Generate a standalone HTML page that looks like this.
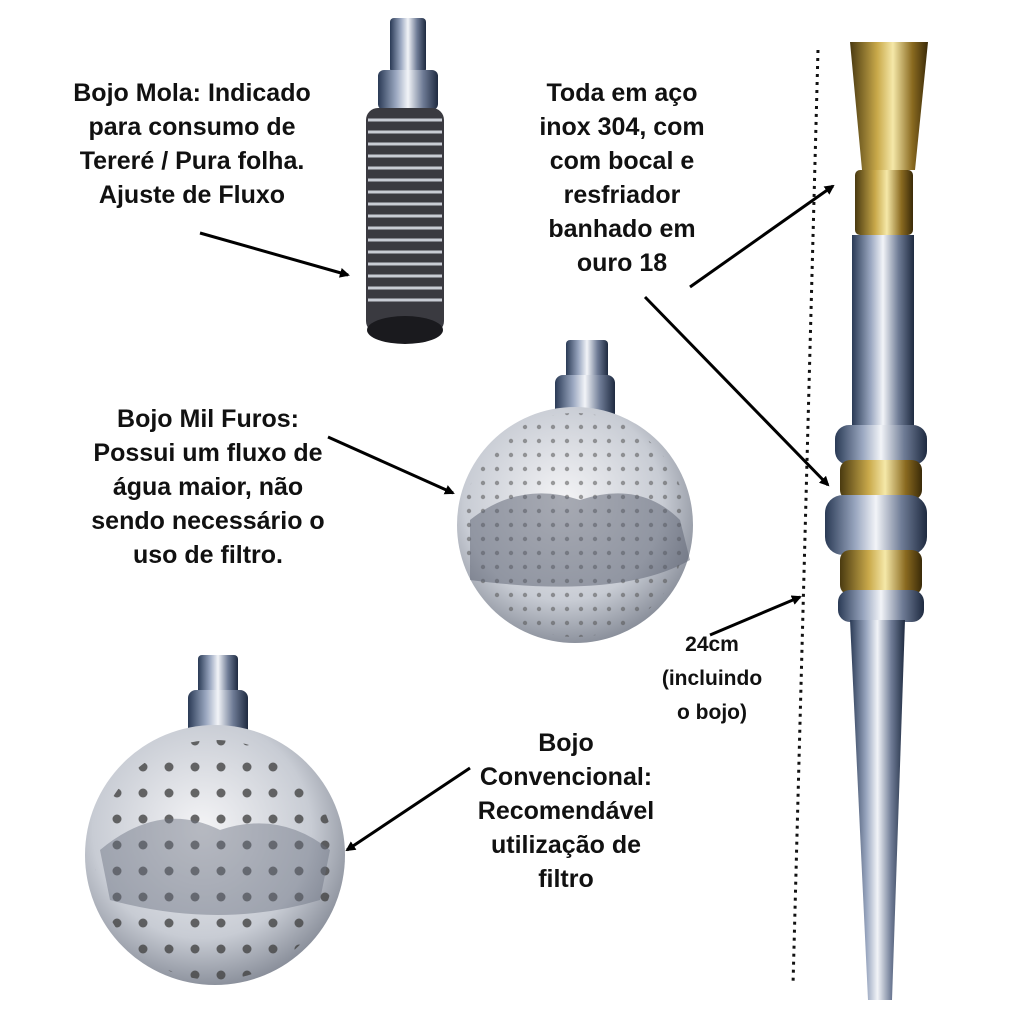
<!DOCTYPE html>
<html><head><meta charset="utf-8"><style>
html,body{margin:0;padding:0;background:#fff;}
svg{display:block}
text{font-family:"Liberation Sans",sans-serif;font-weight:bold;fill:#111;text-anchor:middle}
</style></head><body>
<svg width="1024" height="1024" viewBox="0 0 1024 1024" xmlns="http://www.w3.org/2000/svg">
<defs>
<linearGradient id="steel" x1="0" x2="1" y1="0" y2="0">
<stop offset="0" stop-color="#2a3a55"/><stop offset="0.3" stop-color="#9aa7c0"/><stop offset="0.5" stop-color="#f2f4f8"/><stop offset="0.75" stop-color="#6f7c96"/><stop offset="1" stop-color="#1e2a40"/></linearGradient>
<linearGradient id="gold" x1="0" x2="1" y1="0" y2="0">
<stop offset="0" stop-color="#4a3a10"/><stop offset="0.35" stop-color="#c9a94a"/><stop offset="0.55" stop-color="#f5e8a8"/><stop offset="0.8" stop-color="#8a6a20"/><stop offset="1" stop-color="#3a2a08"/></linearGradient>
<radialGradient id="disc" cx="0.45" cy="0.4" r="0.7">
<stop offset="0" stop-color="#f4f4f6"/><stop offset="0.6" stop-color="#c8ccd4"/><stop offset="1" stop-color="#6d7380"/></radialGradient>
<pattern id="holes" width="14" height="14" patternUnits="userSpaceOnUse"><circle cx="7" cy="7" r="2.2" fill="#555"/></pattern>
<pattern id="holes2" width="26" height="26" patternUnits="userSpaceOnUse"><circle cx="13" cy="13" r="4.5" fill="#444"/></pattern>
<marker id="ah" markerWidth="10" markerHeight="10" refX="8" refY="5" orient="auto" markerUnits="userSpaceOnUse"><path d="M0,0 L10,5 L0,10 Z" fill="#000"/></marker>
</defs>

<rect x="390" y="18" width="36" height="55" rx="4" fill="url(#steel)"/>
<rect x="378" y="70" width="60" height="40" rx="6" fill="url(#steel)"/>
<rect x="366" y="108" width="78" height="225" rx="12" fill="#3a3a40"/>
<g stroke="#c8ccd4" stroke-width="3">
<line x1="368" y1="120" x2="442" y2="120"/><line x1="368" y1="132" x2="442" y2="132"/><line x1="368" y1="144" x2="442" y2="144"/><line x1="368" y1="156" x2="442" y2="156"/><line x1="368" y1="168" x2="442" y2="168"/><line x1="368" y1="180" x2="442" y2="180"/><line x1="368" y1="192" x2="442" y2="192"/><line x1="368" y1="204" x2="442" y2="204"/><line x1="368" y1="216" x2="442" y2="216"/><line x1="368" y1="228" x2="442" y2="228"/><line x1="368" y1="240" x2="442" y2="240"/><line x1="368" y1="252" x2="442" y2="252"/><line x1="368" y1="264" x2="442" y2="264"/><line x1="368" y1="276" x2="442" y2="276"/><line x1="368" y1="288" x2="442" y2="288"/><line x1="368" y1="300" x2="442" y2="300"/></g>
<ellipse cx="405" cy="330" rx="38" ry="14" fill="#1a1a1e"/>

<rect x="566" y="340" width="42" height="40" rx="4" fill="url(#steel)"/>
<rect x="555" y="375" width="60" height="60" rx="8" fill="url(#steel)"/>
<circle cx="575" cy="525" r="118" fill="url(#disc)"/>
<circle cx="575" cy="525" r="112" fill="url(#holes)" opacity="0.55"/>
<path d="M470,520 Q520,480 580,500 Q640,480 680,520 L690,560 Q620,600 470,580 Z" fill="#5a6070" opacity="0.5"/>

<rect x="198" y="655" width="40" height="40" rx="4" fill="url(#steel)"/>
<rect x="188" y="690" width="60" height="60" rx="8" fill="url(#steel)"/>
<circle cx="215" cy="855" r="130" fill="url(#disc)"/>
<circle cx="215" cy="860" r="120" fill="url(#holes2)" opacity="0.8"/>
<path d="M100,850 Q160,800 220,830 Q280,810 330,850 L320,900 Q220,930 110,900 Z" fill="#6a7080" opacity="0.45"/>

<path d="M850,42 L928,42 L915,170 L862,170 Z" fill="url(#gold)"/>
<rect x="855" y="170" width="58" height="65" rx="5" fill="url(#gold)"/>
<rect x="852" y="235" width="62" height="195" fill="url(#steel)"/>
<rect x="835" y="425" width="92" height="40" rx="14" fill="url(#steel)"/>
<rect x="840" y="460" width="82" height="40" rx="10" fill="url(#gold)"/>
<rect x="825" y="495" width="102" height="60" rx="18" fill="url(#steel)"/>
<rect x="840" y="550" width="82" height="45" rx="10" fill="url(#gold)"/>
<rect x="838" y="590" width="86" height="32" rx="12" fill="url(#steel)"/>
<path d="M850,620 L905,620 L892,1000 L868,1000 Z" fill="url(#steel)"/>

<line x1="818" y1="50" x2="793" y2="985" stroke="#111" stroke-width="3" stroke-dasharray="3,5"/>

<g stroke="#000" stroke-width="3" marker-end="url(#ah)">
<line x1="200" y1="233" x2="348" y2="275"/>
<line x1="328" y1="437" x2="453" y2="493"/>
<line x1="470" y1="768" x2="347" y2="850"/>
<line x1="690" y1="287" x2="833" y2="186"/>
<line x1="645" y1="297" x2="828" y2="485"/>
<line x1="710" y1="635" x2="800" y2="597"/>
</g>

<g font-size="25">
<text x="192" y="101">Bojo Mola: Indicado</text>
<text x="192" y="135">para consumo de</text>
<text x="192" y="169">Tereré / Pura folha.</text>
<text x="192" y="203">Ajuste de Fluxo</text>

<text x="622" y="101">Toda em aço</text>
<text x="622" y="135">inox 304, com</text>
<text x="622" y="169">com bocal e</text>
<text x="622" y="203">resfriador</text>
<text x="622" y="237">banhado em</text>
<text x="622" y="271">ouro 18</text>

<text x="208" y="427">Bojo Mil Furos:</text>
<text x="208" y="461">Possui um fluxo de</text>
<text x="208" y="495">água maior, não</text>
<text x="208" y="529">sendo necessário o</text>
<text x="208" y="563">uso de filtro.</text>

<text x="566" y="751">Bojo</text>
<text x="566" y="785">Convencional:</text>
<text x="566" y="819">Recomendável</text>
<text x="566" y="853">utilização de</text>
<text x="566" y="887">filtro</text>
</g>
<g font-size="21">
<text x="712" y="651">24cm</text>
<text x="712" y="685">(incluindo</text>
<text x="712" y="719">o bojo)</text>
</g>
</svg>
</body></html>
